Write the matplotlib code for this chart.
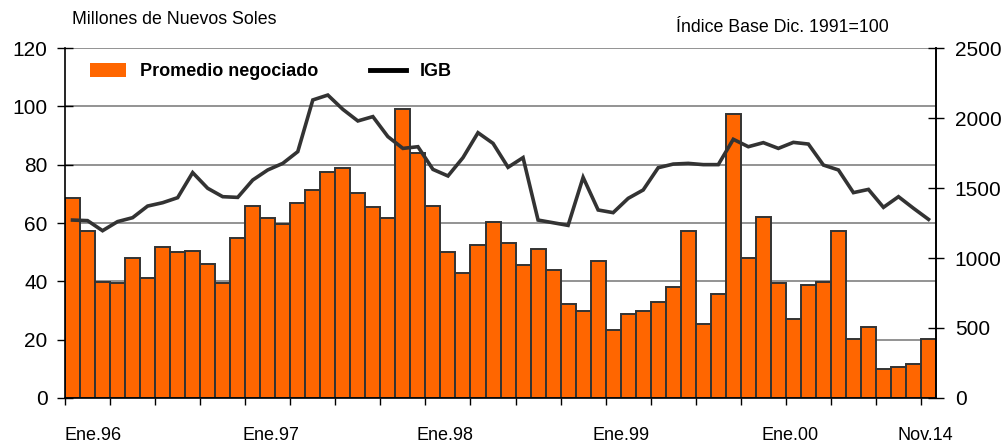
import matplotlib
matplotlib.use('Agg')
import matplotlib.pyplot as plt
from matplotlib.patches import Patch
from matplotlib.lines import Line2D
import numpy as np

plt.rcParams['font.family'] = ['Liberation Sans', 'DejaVu Sans']

# monto promedio negociado (millones de S/.), one bar per period
promedio = [68.5, 57.4, 39.8, 39.5, 47.9, 41.0, 51.7, 50.0, 50.3, 46.0,
            39.5, 55.0, 65.8, 61.7, 59.7, 66.7, 71.2, 77.6, 79.0, 70.2,
            65.5, 61.6, 99.0, 83.9, 66.0, 50.0, 42.7, 52.3, 60.2, 53.2,
            45.6, 51.0, 43.8, 32.3, 29.8, 46.9, 23.3, 28.8, 29.8, 33.0,
            38.2, 57.3, 25.5, 35.6, 97.4, 48.1, 62.0, 39.5, 27.0, 38.7,
            39.8, 57.3, 20.1, 24.5, 9.8, 10.5, 11.5, 20.3]

# indice general bursatil (base dic. 1991 = 100)
igb = [1271, 1267, 1195, 1260, 1288, 1371, 1395, 1431, 1610, 1498,
       1438, 1433, 1557, 1629, 1676, 1760, 2129, 2164, 2062, 1979,
       2010, 1867, 1783, 1795, 1633, 1586, 1717, 1895, 1819, 1648,
       1717, 1271, 1252, 1233, 1576, 1343, 1324, 1426, 1486, 1645,
       1671, 1676, 1667, 1667, 1848, 1795, 1824, 1783, 1826, 1814,
       1664, 1629, 1467, 1490, 1362, 1438, 1355, 1276]

x_labels = ['Ene.96', 'Ene.97', 'Ene.98', 'Ene.99', 'Ene.00', 'Nov.14']
x_label_pos = [1.4, 13.2, 24.8, 36.5, 47.8, 56.8]

BAR_COLOR = '#ff6600'
EDGE = '#333333'


def plot_chart(save_name='out.png'):
    x = np.arange(len(promedio))
    fig = plt.figure(figsize=(10.08, 4.43), dpi=100)
    ax = fig.add_axes([0.0645, 0.1016, 0.8641, 0.79])
    ax.bar(x, promedio, width=1.0, color=BAR_COLOR, edgecolor=EDGE, linewidth=1.4, zorder=2)
    ax.set_xlim(-0.5, len(promedio) - 0.5)
    ax.set_ylim(0, 120)
    ax.set_yticks(np.arange(0, 121, 20))
    ax.yaxis.grid(True, color='#808080', linewidth=1.2, zorder=0)
    ax.set_axisbelow(True)
    ax.spines['top'].set_visible(False)
    for s in ['left', 'bottom', 'right']:
        ax.spines[s].set_color('black')
        ax.spines[s].set_linewidth(1.2)

    # tick marks every 3 bars, labels placed separately
    ax.set_xticks(np.arange(-0.5, len(promedio), 3))
    ax.set_xticklabels([])
    ax.tick_params(axis='x', which='major', direction='out', length=5, width=1, color='black')
    ax.set_xticks(x_label_pos, minor=True)
    ax.set_xticklabels(x_labels, minor=True)
    ax.tick_params(axis='x', which='minor', length=0, pad=21, labelsize=13)
    ax.tick_params(axis='y', direction='inout', length=11, width=1, labelsize=15, pad=7)

    ax2 = ax.twinx()
    ax2.plot(x, igb, color='#333333', linewidth=2.6, zorder=3, solid_joinstyle='miter')
    ax2.set_ylim(0, 2500)
    ax2.set_yticks(np.arange(0, 2501, 500))
    ax2.tick_params(axis='y', direction='inout', length=11, width=1, labelsize=15, pad=8)
    for s in ['top', 'left', 'bottom']:
        ax2.spines[s].set_visible(False)
    ax2.spines['right'].set_linewidth(1.2)

    handles = [Patch(facecolor=BAR_COLOR, edgecolor='none'),
               Line2D([0], [0], color='black', linewidth=3.5)]
    ax.legend(handles, ['Promedio negociado', 'IGB'], loc='upper left', ncol=2,
              bbox_to_anchor=(0.01, 1.003), frameon=False, handlelength=2.0,
              handleheight=0.75, columnspacing=2.9, handletextpad=0.75,
              prop={'weight': 'bold', 'size': 13})

    fig.text(0.071, 0.956, 'Millones de Nuevos Soles', fontsize=12.8, va='center', ha='left')
    fig.text(0.882, 0.938, 'Índice Base Dic. 1991=100', fontsize=12.8, va='center', ha='right')
    fig.savefig(save_name, dpi=100)


if __name__ == '__main__':
    plot_chart()
